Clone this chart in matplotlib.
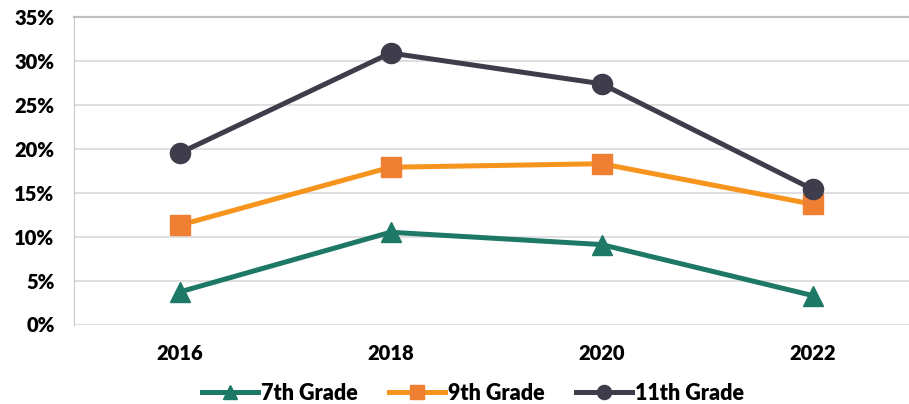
import matplotlib.pyplot as plt
import numpy as np

## DATA
years = ["2016", "2018", "2020", "2022"]
grade7 = [3.7, 10.5, 9.1, 3.3]
grade9 = [11.3, 17.9, 18.3, 13.7]
grade11 = [19.5, 30.9, 27.4, 15.4]
y_ticks = [0, 5, 10, 15, 20, 25, 30, 35]

plt.rcParams['font.family'] = ['Lato', 'DejaVu Sans']

fig = plt.figure(figsize=(9.09, 4.04), dpi=100)
# plot area runs past the right edge of the picture, as in the reference
ax = fig.add_axes([74 / 909, 79.5 / 404, 844 / 909, 307.5 / 404])

x = np.arange(len(years))
ax.plot(x, grade7, color="#1E7866", lw=3.6, marker="^", ms=15,
        mfc="#1E7866", mec="#1E7866", label="7th Grade", zorder=3)
ax.plot(x, grade9, color="#F7941D", lw=3.6, marker="s", ms=14,
        mfc="#EE7F33", mec="#EE7F33", label="9th Grade", zorder=3)
ax.plot(x, grade11, color="#3F3D4C", lw=3.6, marker="o", ms=14.5,
        mfc="#3F3D4C", mec="#3F3D4C", label="11th Grade", zorder=4)

ax.set_xlim(-0.5, 3.5)
ax.set_ylim(0, 35)
ax.set_xticks(x)
ax.set_xticklabels(years)
ax.set_yticks(y_ticks)
ax.set_yticklabels([f"{v}%" for v in y_ticks])

ax.grid(axis="y", color="#D9D9D9", lw=1.2)
ax.set_axisbelow(True)
for side in ["right", "bottom"]:
    ax.spines[side].set_visible(False)
ax.spines["left"].set_color("#C8C8C8")
ax.spines["top"].set_color("#C0C0C0")
ax.spines["top"].set_linewidth(1.6)

ax.tick_params(axis="both", length=0, labelsize=14.5)
ax.tick_params(axis="y", pad=14)
ax.tick_params(axis="x", pad=14)
for lab in ax.get_xticklabels() + ax.get_yticklabels():
    lab.set_fontweight("heavy")

leg = fig.legend(loc="center", bbox_to_anchor=(473 / 909, 11 / 404), ncol=3,
                 frameon=False, handlelength=2.6, columnspacing=1.45,
                 handletextpad=0.15, markerscale=0.7,
                 prop={"size": 15.5, "weight": "heavy"})

fig.savefig("out.png", dpi=100)
